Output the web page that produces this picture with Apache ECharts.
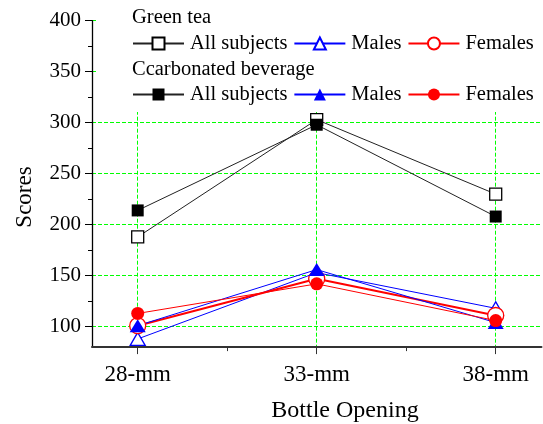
<!DOCTYPE html>
<html><head><meta charset="utf-8">
<script src="https://cdn.jsdelivr.net/npm/echarts@6/dist/echarts.min.js"></script>
<style>html,body{margin:0;padding:0;background:#fff}#c{width:543px;height:424px}</style>
</head><body><div id="c"></div>
<script>
const openings = [28, 33, 38];
const openingLabels = ['28-mm', '33-mm', '38-mm'];
const yTicks = [100, 150, 200, 250, 300, 350, 400];
const yMinorTicks = [125, 175, 225, 275, 325, 375];
const xMinorTicks = [30.5, 35.5];
const gtAll = [188, 303, 230];
const gtMales = [88, 153, 118];
const gtFemales = [101, 147, 111];
const cbAll = [214, 298, 208];
const cbMales = [101, 156, 104];
const cbFemales = [113, 142, 106];

const FONT = 'Liberation Serif';
const GREEN = '#00ff00';
const pairs = arr => arr.map((v, i) => [openings[i], v]);

function mk(name, data, symbol, size, color, filled, lw, lineColor) {
  return {
    name, type: 'line', xAxisIndex: 0, yAxisIndex: 0,
    data: pairs(data), symbol, symbolSize: size,
    lineStyle: { color: lineColor || color, width: lw },
    itemStyle: filled ? { color: color, borderColor: color, borderWidth: 0 }
                      : { color: '#fff', borderColor: color, borderWidth: 1.3 },
    emphasis: { disabled: true }
  };
}

const chart = echarts.init(document.getElementById('c'), null, { renderer: 'canvas' });
const XMIN = 26.7235, XMAX = 39.2793, YMIN = 80, YMAX = 400;
const gridLine = () => ({ show: true, lineStyle: { color: GREEN, type: [4, 2], width: 1 } });
chart.setOption({
  animation: false,
  backgroundColor: '#fff',
  textStyle: { fontFamily: FONT },
  grid: { left: 92, right: 1.5, top: 20.7, height: 326.4 },
  xAxis: [{
    type: 'value', min: XMIN, max: XMAX, position: 'bottom',
    axisLine: { onZero: false, lineStyle: { color: '#333', width: 2 } },
    axisTick: { customValues: openings, length: 7, lineStyle: { color: '#333', width: 1 } },
    axisLabel: { customValues: openings, margin: 16, fontFamily: FONT, fontSize: 23, color: '#000',
      formatter: v => openingLabels[openings.indexOf(v)] },
    splitLine: gridLine()
  }, {
    type: 'value', min: XMIN, max: XMAX, position: 'bottom', gridIndex: 0,
    axisLine: { show: false, onZero: false },
    axisTick: { customValues: xMinorTicks, length: 4, lineStyle: { color: '#333', width: 1 } },
    axisLabel: { show: false }, splitLine: { show: false }
  }],
  yAxis: [{
    type: 'value', min: YMIN, max: YMAX, position: 'left',
    axisLine: { show: true, onZero: false, lineStyle: { color: '#000', width: 1.3 } },
    axisTick: { show: true, customValues: yTicks, length: 7, lineStyle: { color: '#000', width: 1 } },
    axisLabel: { customValues: yTicks, margin: 11, fontFamily: FONT, fontSize: 21, color: '#000' },
    splitLine: gridLine()
  }, {
    type: 'value', min: YMIN, max: YMAX, position: 'left', gridIndex: 0,
    axisLine: { show: false, onZero: false },
    axisTick: { show: true, customValues: yMinorTicks, length: 4, lineStyle: { color: '#000', width: 1 } },
    axisLabel: { show: false }, splitLine: { show: false }
  }],
  legend: [{
    left: 132, top: 33, padding: 0, width: 420, itemWidth: 51, itemHeight: 15, itemGap: 6, selectedMode: false,
    data: ['GT All subjects', 'GT Males', 'GT Females'],
    formatter: n => n.slice(3),
    textStyle: { fontFamily: FONT, fontSize: 20.5, color: '#000', padding: [0, 0, 0, 1] }
  }, {
    left: 132, top: 84, padding: 0, width: 420, itemWidth: 51, itemHeight: 15, itemGap: 6, selectedMode: false,
    data: ['CB All subjects', 'CB Males', 'CB Females'],
    formatter: n => n.slice(3),
    textStyle: { fontFamily: FONT, fontSize: 20.5, color: '#000', padding: [0, 0, 0, 1] }
  }],
  graphic: [
    { type: 'rect', z: 1, shape: { x: 96, y: 0, width: 447, height: 112 }, style: { fill: '#fff' } },
    { type: 'text', z: 5, left: 132, top: 7, style: { text: 'Green tea', font: '20.5px "Liberation Serif"', fill: '#000' } },
    { type: 'text', z: 5, left: 132, top: 59, style: { text: 'Ccarbonated beverage', font: '20.5px "Liberation Serif"', fill: '#000' } },
    { type: 'text', z: 5, x: 25, y: 197, rotation: Math.PI / 2,
      style: { text: 'Scores', font: '23px "Liberation Serif"', fill: '#000', align: 'center', verticalAlign: 'middle' } },
    { type: 'text', z: 5, x: 345, y: 411,
      style: { text: 'Bottle Opening', font: '24px "Liberation Serif"', fill: '#000', align: 'center', verticalAlign: 'middle' } }
  ],
  series: [
    mk('GT All subjects', gtAll, 'rect', 12, '#000', false, 1, '#222'),
    mk('GT Males', gtMales, 'triangle', [15, 13], '#0000ff', false, 1),
    mk('GT Females', gtFemales, 'circle', 16, '#ff0000', false, 2),
    mk('CB All subjects', cbAll, 'rect', 12, '#000', true, 1, '#222'),
    mk('CB Males', cbMales, 'triangle', [16, 13], '#0000ff', true, 1),
    mk('CB Females', cbFemales, 'circle', 13, '#ff0000', true, 1)
  ]
});
</script></body></html>
